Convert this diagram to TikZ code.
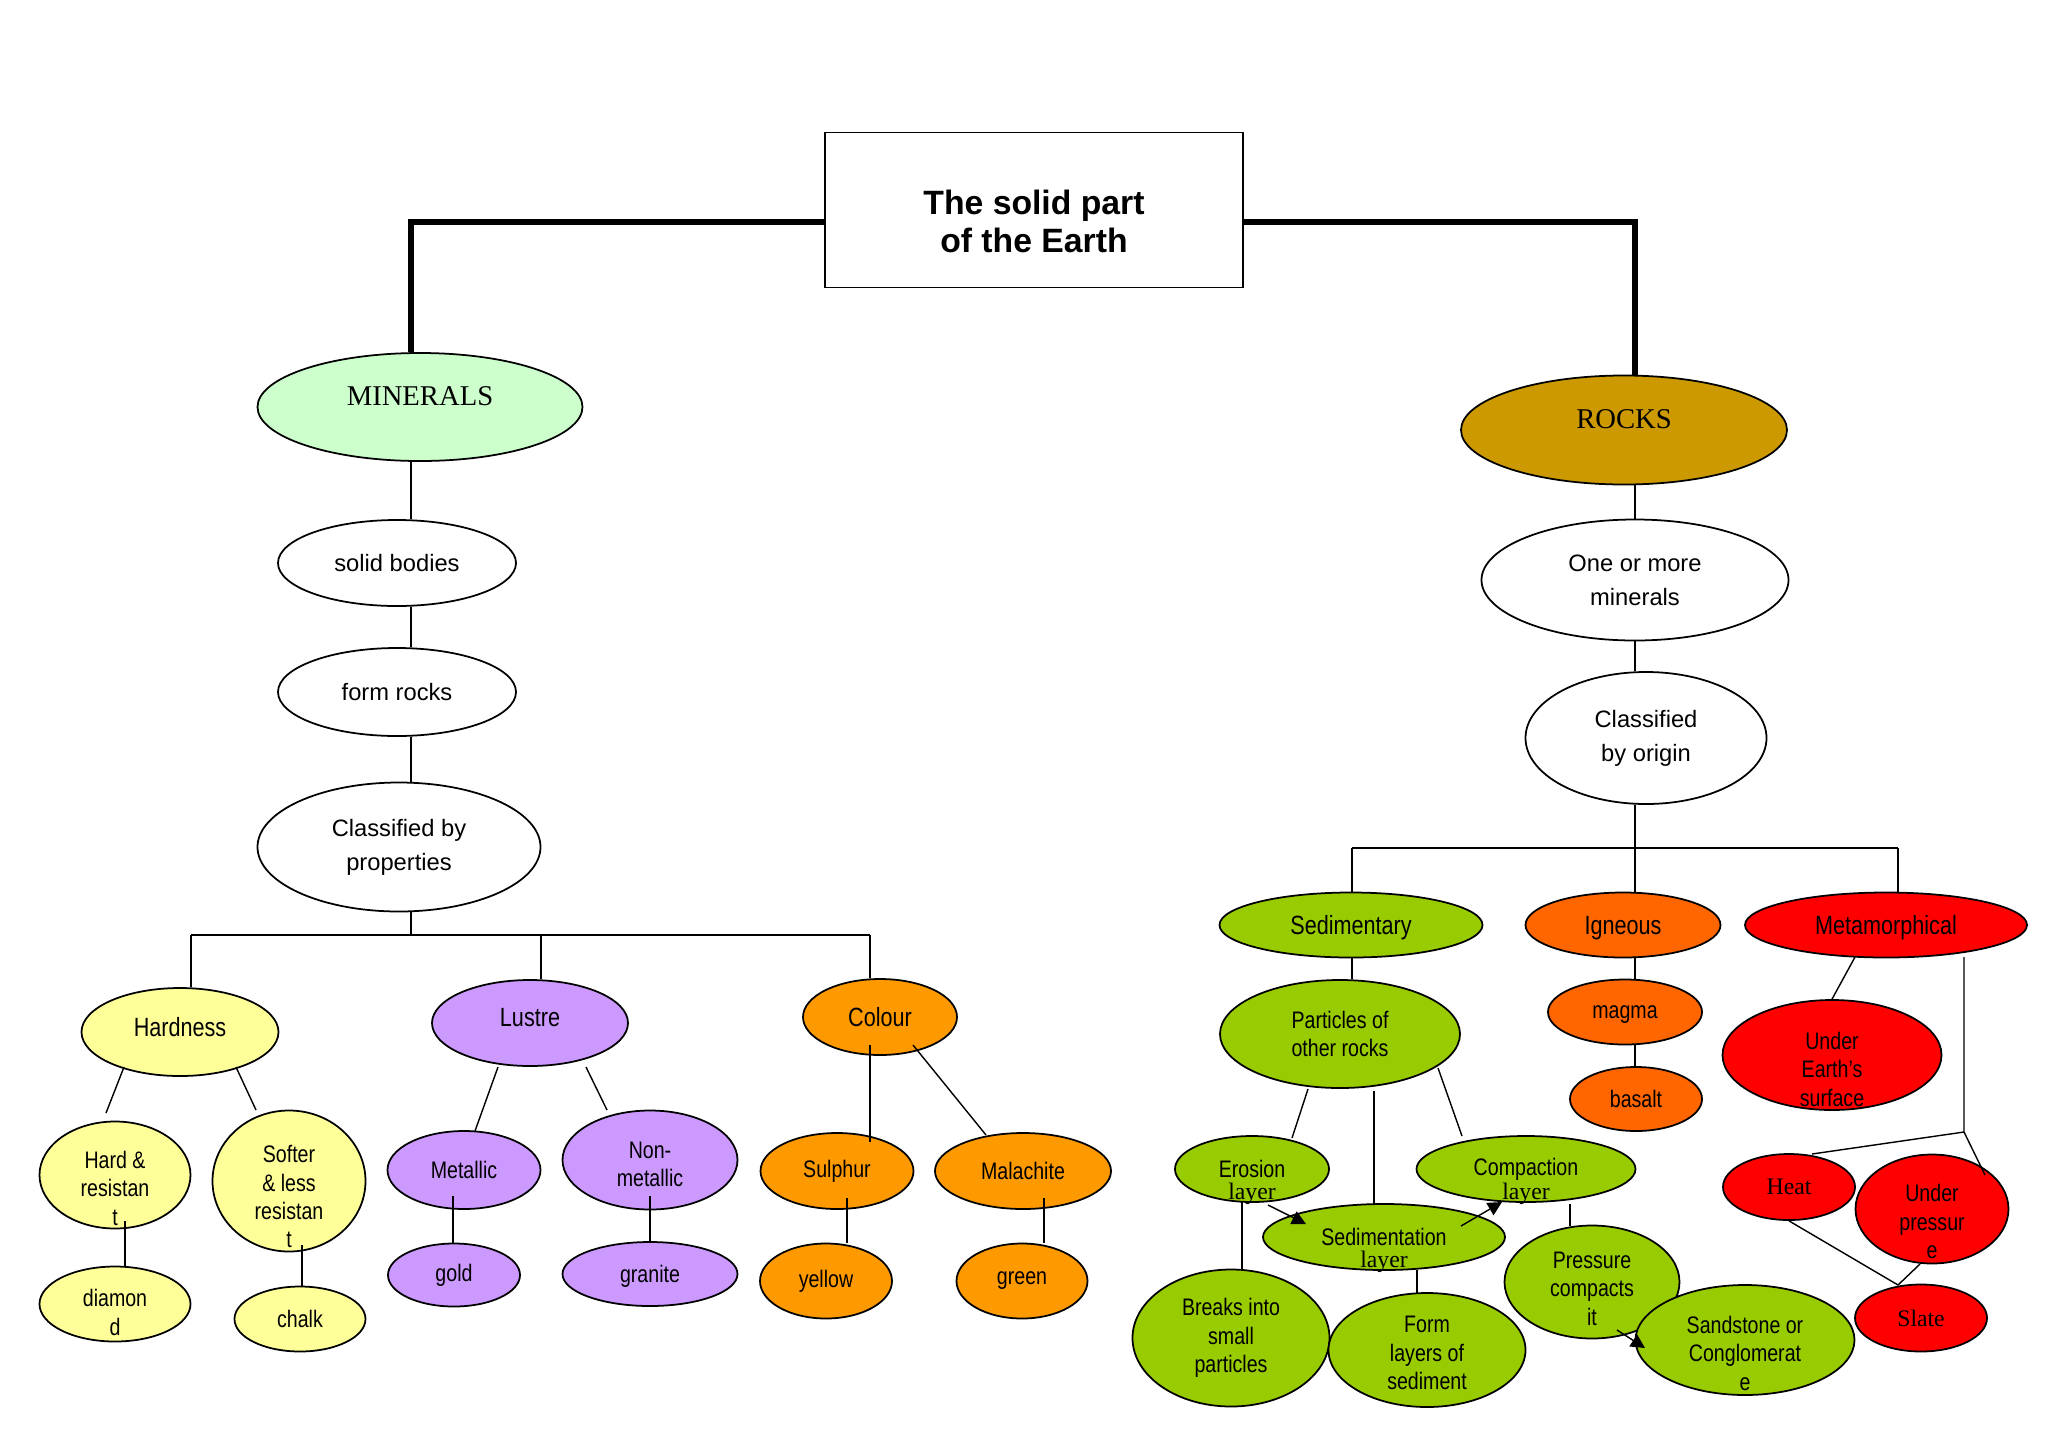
\documentclass[tikz,border=0pt]{standalone}
\usepackage{fontspec}
\setmainfont{Liberation Sans}
\newfontfamily\narrowsf[FakeStretch=0.82]{Liberation Sans}
\newfontfamily\timesrm{Liberation Serif}
\usepackage{tikz}
\usetikzlibrary{arrows.meta,positioning,calc,shapes.geometric}
\definecolor{minfill}{HTML}{CCFFCC}
\definecolor{rockfill}{HTML}{CC9900}
\definecolor{hardfill}{HTML}{FFFF99}
\definecolor{lusfill}{HTML}{CC99FF}
\definecolor{colfill}{HTML}{FF9900}
\definecolor{sedfill}{HTML}{99CC00}
\definecolor{ignfill}{HTML}{FF6600}
\definecolor{metfill}{HTML}{FF0000}
\tikzset{bub/.style={ellipse,draw=black,line width=1pt,inner sep=0pt,align=center},
  sz/.style 2 args={minimum width=#1*0.02cm,minimum height=#2*0.02cm},
  drop/.style={text height=#1pt,inner ysep=-12pt},
  plain/.style={bub,fill=white,font=\fontsize{13.5}{19.5}\selectfont},
  head/.style={bub,font=\timesrm\fontsize{16.3}{19}\selectfont,text depth=13pt},
  big/.style={bub,font=\narrowsf\fontsize{15}{17}\selectfont,text depth=0pt},
  small/.style={bub,font=\narrowsf\fontsize{13.6}{16.2}\selectfont},
  rmbub/.style={bub,font=\timesrm\fontsize{13.5}{16}\selectfont},
  lay/.style={font=\timesrm\fontsize{13.5}{16}\selectfont,anchor=center,yshift=5pt},
  ln/.style={line width=0.8pt},heavy/.style={line width=3pt},
  arr/.style={line width=0.8pt,-{Triangle[length=8pt,width=8pt]}}}

\begin{document}
\begin{tikzpicture}[x=0.02cm,y=-0.02cm]
\fill[white] (0,0) rectangle (2048,1447);
\useasboundingbox (0,0) rectangle (2048,1447);
% top
\node[draw,line width=1pt,fill=white,sz={418}{155},align=center,font=\bfseries\fontsize{19.2}{21.5}\selectfont,text height=48.2pt] (title) at (1034,210) {The solid part\\of the Earth};
% minerals side
\node[head,fill=minfill,sz={325}{108}] (minerals) at (420,407) {MINERALS};
\node[plain,sz={238}{86}] (solid) at (397,563) {solid bodies};
\node[plain,sz={238}{88}] (formr) at (397,692) {form rocks};
\node[plain,sz={283}{129}] (byprop) at (399,847) {Classified by\\properties};
\node[big,fill=hardfill,sz={197}{88},text depth=6pt] (hardness) at (180,1032) {Hardness};
\node[big,fill=lusfill,sz={196}{86},text depth=6pt] (lustre) at (530,1023) {Lustre};
\node[big,fill=colfill,sz={154}{76}] (colour) at (880,1017) {Colour};
\node[small,fill=hardfill,sz={151}{107},drop=57.1] (hardres) at (115,1175) {Hard \&\\resistan\\t};
\node[small,fill=hardfill,sz={153}{141},drop=76.3] (softer) at (289,1181) {Softer\\\& less\\resistan\\t};
\node[small,fill=hardfill,sz={151}{75},drop=35.5] (diamond) at (115,1304) {diamon\\d};
\node[small,fill=hardfill,sz={131}{65}] (chalk) at (300,1319) {chalk};
\node[small,fill=lusfill,sz={153}{78}] (metallic) at (464,1170) {Metallic};
\node[small,fill=lusfill,sz={175}{99},drop=30.3] (nonmet) at (650,1160) {Non-\\metallic};
\node[small,fill=lusfill,sz={132}{63}] (gold) at (454,1275) {gold};
\node[small,fill=lusfill,sz={175}{64},text depth=0pt] (granite) at (650,1274) {granite};
\node[small,fill=colfill,sz={153}{76}] (sulphur) at (837,1171) {Sulphur};
\node[small,fill=colfill,sz={176}{76}] (malachite) at (1023,1171) {Malachite};
\node[small,fill=colfill,sz={132}{75}] (yellow) at (826,1281) {yellow};
\node[small,fill=colfill,sz={131}{75}] (green) at (1022,1281) {green};
% rocks side
\node[head,fill=rockfill,sz={326}{109}] (rocks) at (1624,430) {ROCKS};
\node[plain,sz={307}{121}] (onemore) at (1635,580) {One or more\\minerals};
\node[plain,sz={241}{132}] (byorigin) at (1646,738) {Classified\\by origin};
\node[big,fill=sedfill,sz={263}{65}] (sedim) at (1351,925) {Sedimentary};
\node[big,fill=ignfill,sz={195}{65}] (igneous) at (1623,925) {Igneous};
\node[big,fill=metfill,sz={282}{65}] (metam) at (1886,925) {Metamorphical};
\node[small,fill=sedfill,sz={240}{108}] (particles) at (1340,1034) {Particles of\\other rocks};
\node[small,fill=ignfill,sz={154}{65},text depth=0pt] (magma) at (1625,1012) {magma};
\node[small,fill=ignfill,sz={132}{64}] (basalt) at (1636,1099) {basalt};
\node[small,fill=metfill,sz={219}{110},drop=58.5] (undersurf) at (1832,1055) {Under\\Earth’s\\surface};
\node[rmbub,fill=metfill,sz={132}{66}] (heat) at (1789,1187) {Heat};
\node[small,fill=metfill,sz={153}{109},drop=56.9] (underpr) at (1932,1209) {Under\\pressur\\e};
\node[rmbub,fill=metfill,sz={132}{67}] (slate) at (1921,1318) {Slate};
\node[small,fill=sedfill,sz={154}{66},label={[lay]south:layer}] (erosion) at (1252,1169) {Erosion};
\node[small,fill=sedfill,sz={219}{66},label={[lay]south:layer}] (compaction) at (1526,1169) {Compaction};
\node[small,fill=sedfill,sz={242}{66},label={[lay]south:layer}] (sedlayer) at (1384,1237) {Sedimentation};
\node[small,fill=sedfill,sz={197}{137}] (breaks) at (1231,1338) {Breaks into\\small\\particles};
\node[small,fill=sedfill,sz={197}{114},drop=45.1] (formlay) at (1427,1350) {Form\\layers of\\sediment};
\node[small,fill=sedfill,sz={175}{113},drop=49.5] (pressure) at (1592,1282) {Pressure\\compacts\\it};
\node[small,fill=sedfill,sz={219}{110},drop=57.2] (sandstone) at (1745,1340) {Sandstone or\\Conglomerat\\e};
% joints
\coordinate (jl) at (411,222); \coordinate (jr) at (1635,222);
\coordinate (pbar) at (411,935); \coordinate (hbar) at (191,935); \coordinate (lubar) at (541,935); \coordinate (cbar) at (870,935);
\coordinate (sbar) at (1352,848); \coordinate (rbar) at (1635,848); \coordinate (mbar) at (1898,848);
\coordinate (mjoin) at (1964,1132);
% connectors
\draw[heavy] (title.west |- jl) -- (jl) -- (minerals.north -| jl);
\draw[heavy] (title.east |- jr) -- (jr) -- (rocks.north -| jr);
\draw[ln] (minerals.south -| jl) -- (solid.north -| jl); \draw[ln] (solid.south -| jl) -- (formr.north -| jl);
\draw[ln] (formr.south -| jl) -- (byprop.north -| jl); \draw[ln] (byprop.south -| jl) -- (pbar);
\draw[ln] (hbar) -- (cbar); \draw[ln] (hbar) -- (hardness.north -| hbar);
\draw[ln] (lubar) -- (lustre.north -| lubar); \draw[ln] (cbar) -- (colour.north -| cbar);
\draw[ln] ($(hardness)+(-56,35)$) -- ($(hardres)+(-9,-62)$);
\draw[ln] ($(hardness)+(56,35)$) -- ($(softer)+(-33,-71)$);
\draw[ln] ($(hardres)+(10,46)$) -- ($(diamond)+(10,-37)$);
\draw[ln] ($(softer)+(13,64)$) -- ($(chalk)+(2,-33)$);
\draw[ln] ($(lustre)+(-32,44)$) -- ($(metallic)+(11,-39)$);
\draw[ln] ($(lustre)+(56,44)$) -- ($(nonmet)+(-43,-50)$);
\draw[ln] ($(metallic)+(-11,26)$) -- ($(gold)+(-1,-32)$);
\draw[ln] ($(nonmet)+(0,36)$) -- ($(granite)+(0,-32)$);
\draw[ln] ($(colour)+(-10,28)$) -- ($(sulphur)+(33,-29)$);
\draw[ln] ($(colour)+(33,28)$) -- ($(malachite)+(-37,-36)$);
\draw[ln] ($(sulphur)+(10,27)$) -- ($(yellow)+(21,-38)$);
\draw[ln] ($(malachite)+(21,27)$) -- ($(green)+(22,-38)$);
\draw[ln] (rocks.south -| jr) -- (onemore.north); \draw[ln] (onemore.south) -- (byorigin.north -| onemore);
\draw[ln] (byorigin.south -| rbar) -- (rbar); \draw[ln] (sbar) -- (mbar);
\draw[ln] (sbar) -- (sedim.north -| sbar); \draw[ln] (rbar) -- (igneous.north -| rbar); \draw[ln] (mbar) -- (metam.north -| mbar);
\draw[ln] (sedim.south -| sbar) -- (particles.north -| sbar);
\draw[ln] (igneous.south -| rbar) -- (magma.north -| rbar); \draw[ln] (magma.south -| rbar) -- (basalt.north -| rbar);
\draw[ln] ($(metam)+(-31,32)$) -- (undersurf.north);
\draw[ln] ($(metam)+(78,32)$) -- (mjoin) -- ($(heat)+(23,-33)$); \draw[ln] (mjoin) -- ($(underpr)+(53,-34)$);
\draw[ln] (heat.south) -- ($(slate)+(-23,-33)$); \draw[ln] ($(underpr)+(-12,55)$) -- ($(slate)+(-23,-33)$);
\draw[ln] ($(particles)+(-32,55)$) -- ($(erosion)+(40,-31)$);
\draw[ln] ($(particles)+(34,57)$) -- ($(sedlayer)+(-10,-33)$);
\draw[ln] ($(particles)+(98,34)$) -- ($(compaction)+(-64,-33)$);
\draw[ln] ($(erosion)+(-10,33)$) -- ($(breaks)+(11,-68)$);
\draw[arr] ($(erosion)+(16,36)$) -- ($(sedlayer)+(-78,-13)$);
\draw[arr] ($(sedlayer)+(77,-11)$) -- ($(compaction)+(-24,33)$);
\draw[ln] ($(sedlayer)+(33,33)$) -- ($(formlay)+(-10,-57)$);
\draw[ln] ($(compaction)+(44,35)$) -- ($(pressure)+(-22,-56)$);
\draw[arr] ($(pressure)+(25,48)$) -- ($(sandstone)+(-100,8)$);
\end{tikzpicture}
\end{document}
